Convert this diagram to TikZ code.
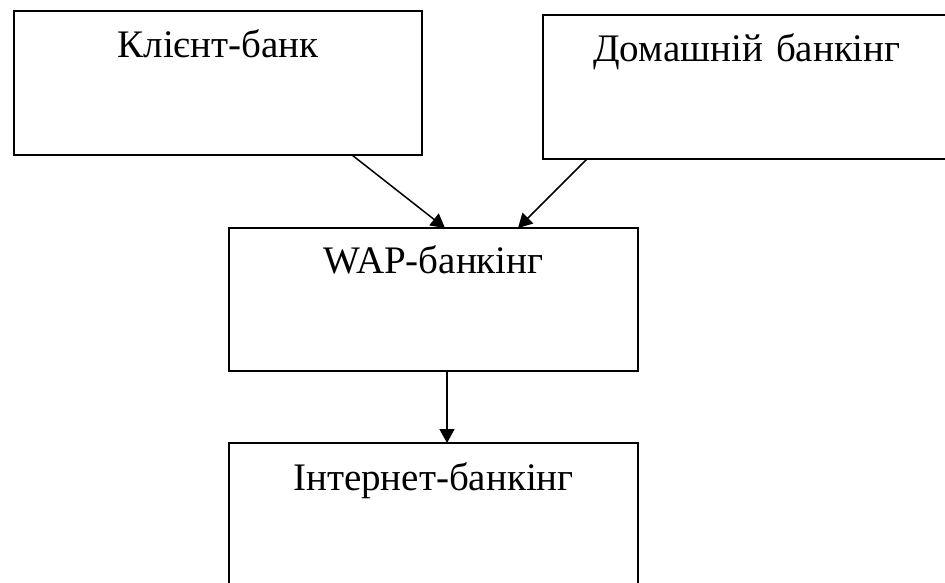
\documentclass[tikz,border=0pt]{standalone}
\usepackage{fontspec}
\setmainfont{Liberation Serif}
\usetikzlibrary{arrows.meta}
\begin{document}
\begin{tikzpicture}[x=1pt,y=-1pt,
  blk/.style={draw,line width=1.8pt,inner sep=0pt,outer sep=0pt,anchor=north west,
    align=center,font=\fontsize{39}{47}\selectfont},
  conn/.style={line width=1.5pt,-{Triangle[length=14pt,width=15pt]}}]
\useasboundingbox (0,0) rectangle (945,583);
\node[blk,text width=408pt,text height=47pt,text depth=97pt] (b1) at (14,11) {Клієнт-банк};
\node[blk,text width=408pt,text height=47pt,text depth=97pt] (b2) at (543,15) {Домашній банкінг};
\node[blk,text width=409pt,text height=45pt,text depth=98pt] (b3) at (229,228) {WAP-банкінг};
\node[blk,text width=409pt,text height=47pt,text depth=100pt] (b4) at (229,443) {Інтернет-банкінг};
\draw[conn] ([xshift=338pt]b1.south west) -- ([xshift=216pt]b3.north west);
\draw[conn] ([xshift=44pt]b2.south west) -- ([xshift=289pt]b3.north west);
\draw[conn] ([xshift=218pt]b3.south west) -- ([xshift=218pt]b4.north west);
\end{tikzpicture}
\end{document}
